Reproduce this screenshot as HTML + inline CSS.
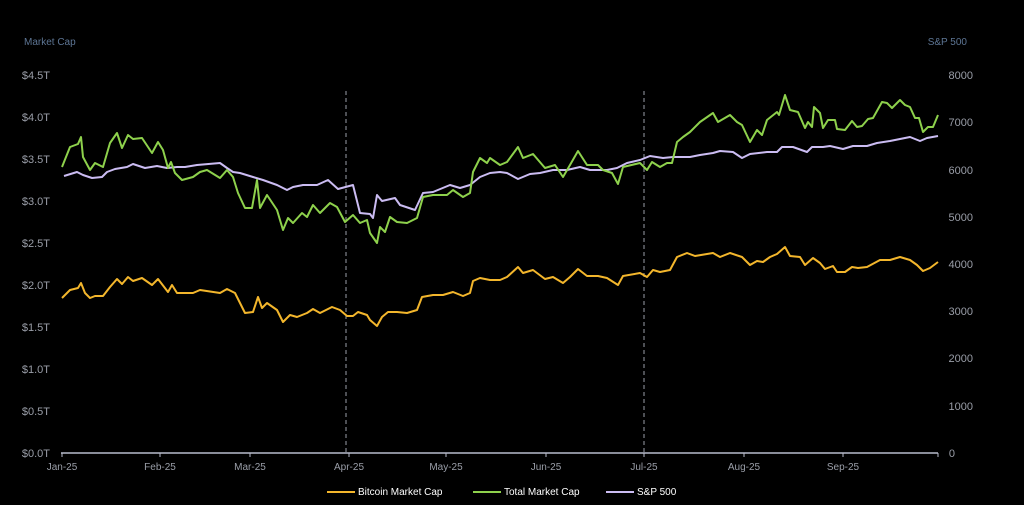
<!DOCTYPE html>
<html><head><meta charset="utf-8"><style>
html,body{margin:0;padding:0;background:#000;width:1024px;height:505px;overflow:hidden}
svg{display:block}
text{font-family:"Liberation Sans",sans-serif}
</style></head><body>
<svg width="1024" height="505" viewBox="0 0 1024 505">
<rect width="1024" height="505" fill="#000"/>
<text x="24" y="45" font-size="10" fill="#5d7594">Market Cap</text>
<text x="967" y="45" font-size="10" fill="#5d7594" text-anchor="end">S&amp;P 500</text>
<g font-size="11" fill="#9a9ea8" text-anchor="end">
<text x="50" y="79">$4.5T</text><text x="50" y="121">$4.0T</text><text x="50" y="163">$3.5T</text><text x="50" y="205">$3.0T</text><text x="50" y="247">$2.5T</text><text x="50" y="289">$2.0T</text><text x="50" y="331">$1.5T</text><text x="50" y="373">$1.0T</text><text x="50" y="415">$0.5T</text><text x="50" y="457">$0.0T</text>
</g>
<g font-size="11" fill="#9a9ea8" text-anchor="end">
<text x="973" y="79">8000</text><text x="973" y="126">7000</text><text x="973" y="174">6000</text><text x="973" y="221">5000</text><text x="973" y="268">4000</text><text x="973" y="315">3000</text><text x="973" y="362">2000</text><text x="973" y="410">1000</text><text x="955" y="457">0</text>
</g>
<line x1="346" y1="91" x2="346" y2="453" stroke="#9a9ea8" stroke-width="1" stroke-dasharray="4,3"/>
<line x1="644" y1="91" x2="644" y2="453" stroke="#9a9ea8" stroke-width="1" stroke-dasharray="4,3"/>
<line x1="61" y1="453" x2="938" y2="453" stroke="#b8bccc" stroke-width="1.5"/>
<g stroke="#b8bccc" stroke-width="1">
<line x1="62" y1="453" x2="62" y2="457"/><line x1="160" y1="453" x2="160" y2="457"/><line x1="250" y1="453" x2="250" y2="457"/><line x1="349" y1="453" x2="349" y2="457"/><line x1="446" y1="453" x2="446" y2="457"/><line x1="546" y1="453" x2="546" y2="457"/><line x1="644" y1="453" x2="644" y2="457"/><line x1="744" y1="453" x2="744" y2="457"/><line x1="843" y1="453" x2="843" y2="457"/><line x1="938" y1="453" x2="938" y2="457"/>
</g>
<g font-size="10" fill="#9a9ea8" text-anchor="middle">
<text x="62" y="470">Jan-25</text><text x="160" y="470">Feb-25</text><text x="250" y="470">Mar-25</text><text x="349" y="470">Apr-25</text><text x="446" y="470">May-25</text><text x="546" y="470">Jun-25</text><text x="644" y="470">Jul-25</text><text x="744" y="470">Aug-25</text><text x="843" y="470">Sep-25</text>
</g>
<g fill="none" stroke-width="2" stroke-linejoin="round">
<polyline stroke="#cbbcf2" points="64,176 77,172 83,175 92,178 102,177 107,172 115,169 127,167 133,164 145,168 157,166 167,168 177,167 185,167 197,165 220,163 227,168 233,172 240,173 253,177 263,180 277,185 287,190 293,187 303,185 317,185 328,180 338,189 353,185 360,213 370,214 373,218 377,195 382,201 395,198 400,205 415,210 423,193 433,192 450,185 460,188 470,185 480,177 490,173 500,172 507,173 518,179 530,174 540,173 553,170 567,170 580,167 590,170 607,170 617,168 627,163 640,160 650,156 663,158 673,157 690,157 700,155 713,153 720,151 733,152 742,158 750,154 767,152 777,152 782,147 793,147 807,152 812,147 823,147 830,146 843,149 853,146 867,146 877,143 890,141 900,139 910,137 920,141 927,138 938,136"/>
<polyline stroke="#8ed14c" points="62,167 70,147 78,144 81,137 83,157 90,170 95,163 103,167 110,143 117,133 122,148 128,135 133,139 142,138 152,153 158,142 163,150 168,168 171,162 175,173 182,180 193,177 200,172 207,170 220,178 227,170 233,177 238,193 245,208 252,208 257,180 260,208 267,195 277,210 283,230 288,218 293,223 302,213 307,217 313,205 320,213 330,203 337,207 345,222 353,215 360,223 367,220 370,233 377,243 380,227 385,232 390,217 397,222 407,223 417,218 423,197 433,195 447,195 453,190 463,197 470,193 473,172 480,158 487,163 490,158 500,165 507,162 518,147 523,158 533,154 545,168 555,165 563,177 570,165 578,151 587,165 598,165 603,170 612,173 618,184 623,167 640,163 647,170 652,162 660,167 667,163 672,163 677,142 683,137 690,132 700,122 713,113 718,122 730,115 737,122 742,125 750,142 757,130 762,135 767,120 777,112 779,115 785,95 790,110 798,112 805,128 808,122 812,127 814,107 820,113 823,128 828,120 835,120 837,129 845,130 852,121 857,127 862,126 868,119 873,118 882,102 887,103 892,108 900,100 905,105 910,107 915,118 919,118 923,132 928,127 933,127 938,115"/>
<polyline stroke="#f3b62c" points="62,298 70,290 78,288 81,283 85,293 90,298 95,296 103,296 110,287 117,279 122,284 128,277 133,281 142,278 152,285 158,279 168,292 172,285 177,293 193,293 200,290 220,293 227,289 235,293 245,313 253,312 258,297 262,308 267,303 277,310 283,322 290,315 297,317 307,313 313,309 320,313 332,307 340,310 347,316 353,316 358,312 367,315 370,320 377,326 382,317 388,312 397,312 407,313 417,310 422,297 433,295 443,295 453,292 463,296 470,293 473,281 480,278 490,280 500,280 507,277 518,267 523,273 533,270 545,279 553,277 563,283 570,277 578,269 587,276 598,276 607,278 618,285 623,276 640,273 647,277 653,270 660,272 670,270 677,257 687,253 695,256 713,253 720,257 730,253 742,257 750,265 757,261 763,262 770,257 777,254 785,247 790,256 800,257 805,265 813,258 820,263 825,269 833,266 837,272 845,272 852,267 858,268 867,267 880,260 890,260 900,257 910,260 917,265 923,271 930,268 938,262"/>
</g>
<g font-size="10" fill="#fff">
<line x1="327" y1="492" x2="355" y2="492" stroke="#f3b62c" stroke-width="2"/><text x="358" y="495">Bitcoin Market Cap</text>
<line x1="473" y1="492" x2="501" y2="492" stroke="#8ed14c" stroke-width="2"/><text x="504" y="495">Total Market Cap</text>
<line x1="606" y1="492" x2="634" y2="492" stroke="#cbbcf2" stroke-width="2"/><text x="637" y="495">S&amp;P 500</text>
</g>
</svg>
</body></html>
